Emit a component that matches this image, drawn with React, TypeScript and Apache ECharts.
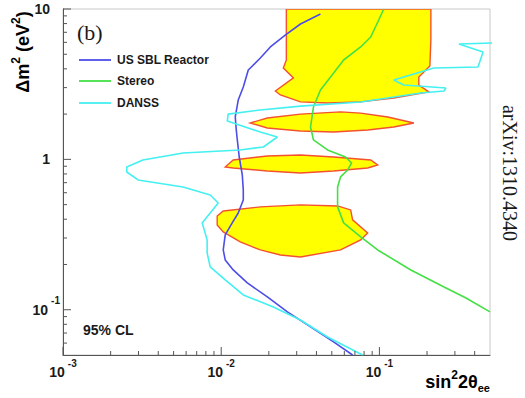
import React, { useEffect, useRef } from "react";
import * as echarts from "echarts";

// ---- data (x = sin^2 2θee, y = Δm^2 in eV^2) ----
const seriesNames = ["US SBL Reactor", "Stereo", "DANSS"];
const seriesColors = ["#4d4de8", "#44e044", "#44f0f0"];

const usSblReactor: [number, number][] = [
  [0.0424, 9.26], [0.0317, 7.95], [0.0255, 6.72], [0.02045, 5.59], [0.01767, 4.72],
  [0.01483, 3.93], [0.01379, 3.03], [0.01281, 2.48], [0.01227, 1.914], [0.01245, 1.569],
  [0.01264, 1.346], [0.013, 1.037], [0.01359, 0.788], [0.01379, 0.626], [0.01379, 0.537],
  [0.01281, 0.44], [0.01174, 0.378], [0.0106, 0.3145], [0.0103, 0.2498], [0.0106, 0.2144],
  [0.01191, 0.1839], [0.01462, 0.1508], [0.01957, 0.1216], [0.0262, 0.0967], [0.0367, 0.0769],
  [0.0513, 0.0611], [0.0677, 0.05],
];

const stereo: [number, number][] = [
  [0.1065, 10], [0.099, 8.45], [0.0881, 6.51], [0.0761, 5.59], [0.0594, 4.58],
  [0.0491, 3.53], [0.0424, 2.89], [0.0383, 2.23], [0.0367, 1.642], [0.0383, 1.346],
  [0.047, 1.155], [0.0611, 1.037], [0.0667, 0.946], [0.063, 0.85], [0.0568, 0.764],
  [0.0544, 0.655], [0.0544, 0.483], [0.0594, 0.378], [0.0761, 0.305], [0.0975, 0.2498],
  [0.158, 0.1839], [0.256, 0.1418], [0.3525, 0.1198], [0.5, 0.0967],
];

const danss: [number, number][] = [
  [0.52, 5.94], [0.318, 5.85], [0.452, 5.18], [0.42, 4.11], [0.221, 4.05],
  [0.1232, 3.37], [0.1426, 3.12], [0.263, 2.98], [0.256, 2.85], [0.1827, 2.76],
  [0.0761, 2.41], [0.0317, 2.26], [0.01767, 2.13], [0.01107, 2.0], [0.01092, 1.8],
  [0.01767, 1.52], [0.02265, 1.409], [0.01846, 1.209], [0.01319, 1.155], [0.00574, 1.103],
  [0.0032, 0.991], [0.00253, 0.89], [0.00253, 0.824], [0.00298, 0.73], [0.00574, 0.655],
  [0.00852, 0.58], [0.00957, 0.513], [0.00758, 0.378], [0.00815, 0.291], [0.00815, 0.2385],
  [0.00852, 0.1926], [0.0106, 0.1579], [0.01379, 0.1254], [0.02136, 0.1044], [0.0317, 0.0855],
  [0.047, 0.0659], [0.0783, 0.05],
];

const allowedRegionA: [number, number][] = [
  [0.0258, 10], [0.2115, 10], [0.2115, 6.22], [0.2084, 4.18], [0.1775, 3.53], [0.1775, 3.12],
  [0.2054, 2.81], [0.1232, 2.56], [0.0761, 2.41], [0.047, 2.37], [0.0317, 2.41], [0.02366, 2.68],
  [0.022, 2.85], [0.0286, 3.48], [0.0247, 4.05], [0.0258, 4.58],
];
const allowedRegionB: [number, number][] = [
  [0.01527, 1.746], [0.01957, 1.885], [0.0317, 2.0], [0.0568, 2.07], [0.0761, 2.03], [0.1129, 1.914],
  [0.1651, 1.746], [0.1232, 1.642], [0.0843, 1.569], [0.0513, 1.52], [0.0317, 1.545], [0.01957, 1.617],
];
const allowedRegionC: [number, number][] = [
  [0.0106, 0.89], [0.01191, 0.991], [0.01957, 1.053], [0.0317, 1.07], [0.0513, 1.037], [0.0881, 0.991],
  [0.0975, 0.918], [0.0843, 0.877], [0.0513, 0.837], [0.0317, 0.812], [0.01957, 0.837], [0.01191, 0.877],
];
const allowedRegionD: [number, number][] = [
  [0.00943, 0.42], [0.0103, 0.454], [0.01767, 0.483], [0.0317, 0.498], [0.0544, 0.49], [0.0658, 0.461],
  [0.0677, 0.396], [0.0843, 0.324], [0.0761, 0.291], [0.0568, 0.2498], [0.0317, 0.2244], [0.02366, 0.2313],
  [0.01767, 0.2498], [0.01319, 0.2823], [0.0103, 0.329], [0.00943, 0.366],
];
const allowedRegions = [allowedRegionA, allowedRegionB, allowedRegionC, allowedRegionD];

const X_MIN = 0.001;
const X_MAX = 0.5;
const Y_MIN = 0.05;
const Y_MAX = 10;

const xMajorTicks = [0.001, 0.01, 0.1];
const xMinorTicks = [
  0.002, 0.003, 0.004, 0.005, 0.006, 0.007, 0.008, 0.009,
  0.02, 0.03, 0.04, 0.05, 0.06, 0.07, 0.08, 0.09,
  0.2, 0.3, 0.4,
];
const yMajorTicks = [0.1, 1, 10];
const yMinorTicks = [
  0.06, 0.07, 0.08, 0.09,
  0.2, 0.3, 0.4, 0.5, 0.6, 0.7, 0.8, 0.9,
  2, 3, 4, 5, 6, 7, 8, 9,
];

const SANS = "Liberation Sans";
const SERIF = "Liberation Serif";
const TXT = "#1a1a1a";

function expOf(v: number): number | null {
  const l = Math.log10(v);
  const e = Math.round(l);
  return Math.abs(l - e) < 1e-6 ? e : null;
}

const labelRich = {
  b: { fontFamily: SANS, fontWeight: "bold" as const, fontSize: 14, color: TXT },
  s: { fontFamily: SANS, fontWeight: "bold" as const, fontSize: 10, color: TXT, padding: [0, 0, 18, 3] },
  p: { width: 10 },
};

export default function App() {
  const ref = useRef<HTMLDivElement>(null);
  useEffect(() => {
    if (!ref.current) return;
    const chart = echarts.init(ref.current, undefined, { renderer: "svg" });

    const tickSeries = (vals: number[], axis: "x" | "y", len: number) => ({
      type: "custom",
      silent: true,
      z: 5,
      data: vals.map((v) => (axis === "x" ? [v, Y_MIN] : [X_MIN, v])),
      renderItem: (_p: any, api: any) => {
        const pt = api.coord([api.value(0), api.value(1)]);
        const shape =
          axis === "x"
            ? { x1: pt[0], y1: pt[1], x2: pt[0], y2: pt[1] - len }
            : { x1: pt[0], y1: pt[1], x2: pt[0] + len, y2: pt[1] };
        return { type: "line", shape, style: { stroke: "#555", lineWidth: 1 } };
      },
    });

    const lineSeries = (name: string, data: [number, number][], color: string) => ({
      name,
      type: "line",
      data,
      showSymbol: false,
      symbol: "none",
      z: 3,
      clip: true,
      lineStyle: { color, width: 1.6 },
    });

    const legendY = [60, 81, 103];
    const legendGraphics: any[] = [];
    seriesNames.forEach((n, i) => {
      legendGraphics.push({
        type: "line",
        shape: { x1: 79, y1: legendY[i], x2: 111, y2: legendY[i] },
        style: { stroke: seriesColors[i], lineWidth: 1.8 },
      });
      legendGraphics.push({
        type: "text",
        x: 117,
        y: legendY[i],
        style: { text: n, font: `bold 12px "${SANS}"`, fill: TXT, verticalAlign: "middle" },
      });
    });

    const titleRich = {
      a: { fontFamily: SANS, fontWeight: "bold", fontSize: 18, color: TXT },
      s: { fontFamily: SANS, fontWeight: "bold", fontSize: 12, color: TXT, padding: [0, 0, 14, 0] },
      u: { fontFamily: SANS, fontWeight: "bold", fontSize: 11, color: TXT, padding: [12, 0, 0, 0] },
    };

    chart.setOption({
      animation: false,
      grid: { left: 63, top: 9, right: 35, bottom: 43, show: true, borderColor: "#c8c8c8", borderWidth: 1 },
      xAxis: {
        type: "log",
        logBase: 10,
        min: X_MIN,
        max: X_MAX,
        axisLine: { lineStyle: { color: "#555", width: 1 } },
        axisTick: { show: false },
        minorTick: { show: false },
        splitLine: { show: false },
        axisLabel: {
          margin: 3,
          showMinLabel: true,
          showMaxLabel: true,
          formatter: (v: number) => {
            const e = expOf(v);
            return e === null ? "" : `{b|10}{s|${e}}`;
          },
          rich: labelRich,
        },
      },
      yAxis: {
        type: "log",
        logBase: 10,
        min: Y_MIN,
        max: Y_MAX,
        axisLine: { lineStyle: { color: "#555", width: 1 } },
        axisTick: { show: false },
        minorTick: { show: false },
        splitLine: { show: false },
        axisLabel: {
          margin: 3,
          showMinLabel: true,
          showMaxLabel: true,
          formatter: (v: number) => {
            const e = expOf(v);
            if (e === null) return "";
            if (e === 1) return "{b|10}{p|}";
            if (e === 0) return "{b|1}{p|}";
            return `{b|10}{s|${e}}`;
          },
          rich: labelRich,
        },
      },
      series: [
        {
          type: "custom",
          name: "allowed",
          z: 1,
          clip: true,
          silent: true,
          data: allowedRegions.map((r) => r[0]),
          renderItem: (params: any, api: any) => {
            const pts = allowedRegions[params.dataIndex].map((p) => api.coord(p));
            return {
              type: "polygon",
              shape: { points: pts },
              style: { fill: "#ffff00", stroke: "#f4512f", lineWidth: 1.4 },
            };
          },
        },
        lineSeries(seriesNames[0], usSblReactor, seriesColors[0]),
        lineSeries(seriesNames[1], stereo, seriesColors[1]),
        lineSeries(seriesNames[2], danss, seriesColors[2]),
        tickSeries(xMajorTicks, "x", 8),
        tickSeries(xMinorTicks, "x", 4),
        tickSeries(yMajorTicks, "y", 8),
        tickSeries(yMinorTicks, "y", 4),
      ],
      graphic: [
        ...legendGraphics,
        {
          type: "text",
          x: 77,
          y: 32,
          style: { text: "(b)", font: `22px "${SERIF}"`, fill: TXT, verticalAlign: "middle" },
        },
        {
          type: "text",
          x: 83,
          y: 330,
          style: { text: "95% CL", font: `bold 14px "${SANS}"`, fill: TXT, verticalAlign: "middle" },
        },
        {
          type: "text",
          x: 510,
          y: 173,
          rotation: -Math.PI / 2,
          style: {
            text: "arXiv:1310.4340",
            font: `20px "${SERIF}"`,
            fill: TXT,
            align: "center",
            verticalAlign: "middle",
          },
        },
        {
          type: "text",
          x: 23,
          y: 52,
          rotation: Math.PI / 2,
          style: {
            text: "{a|Δm}{s|2}{a| (eV}{s|2}{a|)}",
            rich: titleRich,
            align: "center",
            verticalAlign: "middle",
          },
        },
        {
          type: "text",
          x: 490,
          y: 382,
          style: {
            text: "{a|sin}{s|2}{a|2θ}{u|ee}",
            rich: titleRich,
            align: "right",
            verticalAlign: "middle",
          },
        },
      ],
    });
    return () => chart.dispose();
  }, []);
  return (
    <div
      ref={ref}
      style={{ position: "fixed", left: 0, top: 0, width: 525, height: 398, background: "#fff" }}
    />
  );
}
